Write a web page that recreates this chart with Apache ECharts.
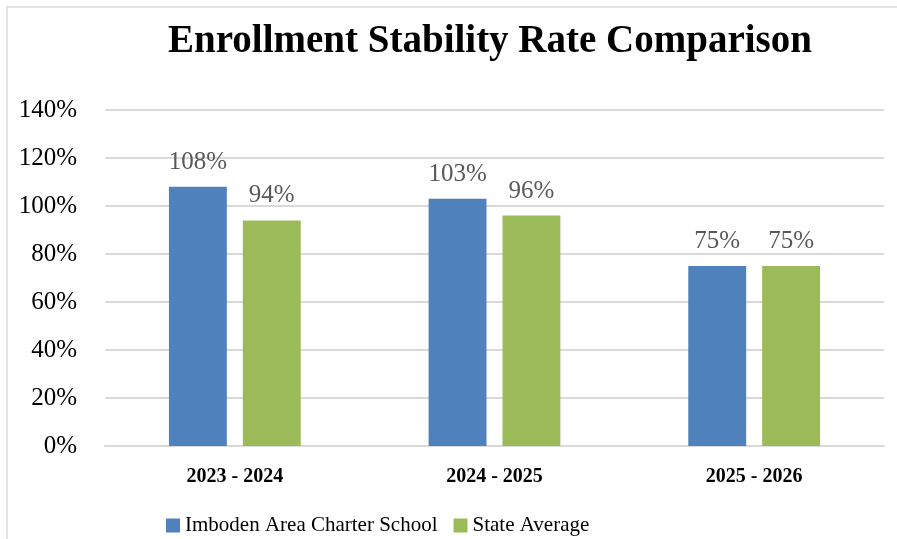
<!DOCTYPE html>
<html>
<head>
<meta charset="utf-8">
<script src="https://cdn.jsdelivr.net/npm/echarts@6/dist/echarts.min.js"></script>
<style>
  html, body { margin: 0; padding: 0; background: #fff; }
  #chart { width: 897px; height: 539px; }
</style>
</head>
<body>
<div id="chart"></div>
<script>
// data
var years = ["2023 - 2024", "2024 - 2025", "2025 - 2026"];
var schoolRate = [108, 103, 75];
var stateRate = [94, 96, 75];
var yTicks = { min: 0, max: 140, step: 20 };

var serif = "Liberation Serif";
var chart = echarts.init(document.getElementById("chart"));

chart.setOption({
  animation: false,
  backgroundColor: "#fff",
  color: ["#4f81bd", "#9bbb59"],
  graphic: [
    {
      // frame around the chart (only top and left are visible)
      type: "rect",
      shape: { x: 7, y: 7, width: 1000, height: 1000 },
      style: { fill: "none", stroke: "#d9d9d9", lineWidth: 1.5 },
      silent: true
    },
    {
      type: "text",
      x: 490,
      y: 22,
      style: {
        text: "Enrollment Stability Rate Comparison",
        textAlign: "center",
        textVerticalAlign: "top",
        fontFamily: serif,
        fontWeight: "bold",
        fontSize: 39,
        fill: "#000"
      }
    }
  ],
  grid: { left: 105, right: 13, top: 110, bottom: 93 },
  legend: {
    left: 161,
    top: 510,
    itemWidth: 14,
    itemHeight: 14,
    itemGap: 16,
    icon: "rect",
    textStyle: { fontFamily: serif, fontSize: 21, color: "#000" },
    data: ["Imboden Area Charter School", "State Average"]
  },
  xAxis: {
    type: "category",
    data: years,
    axisLine: { lineStyle: { color: "#d9d9d9", width: 2 } },
    axisTick: { show: false },
    axisLabel: {
      margin: 21,
      fontFamily: serif,
      fontWeight: "bold",
      fontSize: 20,
      color: "#000"
    }
  },
  yAxis: {
    type: "value",
    min: yTicks.min,
    max: yTicks.max,
    interval: yTicks.step,
    axisLine: { show: false },
    axisTick: { show: false },
    splitLine: { lineStyle: { color: "#d9d9d9", width: 2 } },
    axisLabel: {
      margin: 28,
      fontFamily: serif,
      fontSize: 25,
      color: "#000",
      formatter: "{value}%"
    }
  },
  series: [
    {
      name: "Imboden Area Charter School",
      type: "bar",
      data: schoolRate,
      barWidth: "22.3%",
      barGap: "27.6%",
      label: {
        show: true,
        position: "top",
        distance: 12,
        fontFamily: serif,
        fontSize: 25,
        color: "#595959",
        formatter: "{c}%"
      }
    },
    {
      name: "State Average",
      type: "bar",
      data: stateRate,
      barWidth: "22.3%",
      label: {
        show: true,
        position: "top",
        distance: 12,
        fontFamily: serif,
        fontSize: 25,
        color: "#595959",
        formatter: "{c}%"
      }
    }
  ]
});
</script>
</body>
</html>
